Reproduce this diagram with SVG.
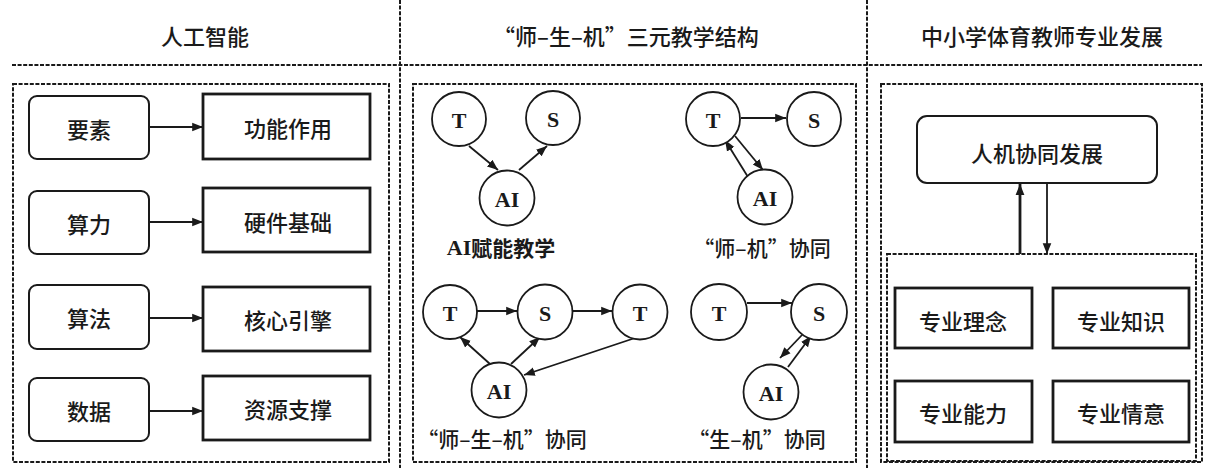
<svg xmlns="http://www.w3.org/2000/svg" width="1206" height="468" viewBox="0 0 1206 468">
<style>
.bg{fill:#fff}
.div{stroke:#1a1a1a;stroke-width:2;stroke-dasharray:4 1.6;fill:none}
.box{stroke:#1a1a1a;stroke-width:2;stroke-dasharray:4 1.6;fill:none}
.rr{fill:#fff;stroke:#1a1a1a;stroke-width:2}
.sq{fill:#fff;stroke:#1a1a1a;stroke-width:2.8}
.cir{fill:#fff;stroke:#1a1a1a;stroke-width:1.8}
.hd{font-family:"Noto Sans CJK SC",sans-serif;font-weight:500;font-size:22px;fill:#1a1a1a;text-anchor:middle;dominant-baseline:central}
.lb{font-family:"Noto Sans CJK SC",sans-serif;font-weight:500;font-size:22px;fill:#1a1a1a;text-anchor:middle;dominant-baseline:central}
.cap{font-family:"Noto Sans CJK SC",sans-serif;font-weight:500;font-size:21px;fill:#1a1a1a;text-anchor:middle;dominant-baseline:central}
.capb{font-family:"Noto Sans CJK SC",sans-serif;font-weight:bold;font-size:21px;fill:#1a1a1a;text-anchor:middle;dominant-baseline:central}
.capb tspan{font-family:"Liberation Serif",serif;font-weight:bold;font-size:22px}
.ser{font-family:"Liberation Serif",serif;font-weight:bold;font-size:22px;fill:#1a1a1a;text-anchor:middle;dominant-baseline:central}
.ln{stroke:#1a1a1a;stroke-width:1.8;fill:none;marker-end:url(#ah)}
.lnb{stroke:#1a1a1a;stroke-width:2.8;fill:none;marker-end:url(#ah2)}
</style>
<defs>
<marker id="ah" viewBox="0 0 10 10" refX="10" refY="5" markerWidth="6" markerHeight="6" orient="auto" markerUnits="strokeWidth"><path d="M0,1 L10,5 L0,9 Z" fill="#1a1a1a"/></marker>
<marker id="ah2" viewBox="0 0 10 10" refX="10" refY="5" markerWidth="4" markerHeight="4" orient="auto" markerUnits="strokeWidth"><path d="M0,1 L10,5 L0,9 Z" fill="#1a1a1a"/></marker>
</defs>
<rect class="bg" x="0" y="0" width="1206" height="468"/>

<g id="frame">
<line class="div" x1="400" y1="0" x2="400" y2="468"/>
<line class="div" x1="867" y1="0" x2="867" y2="468"/>
<line class="div" x1="12" y1="65" x2="1202" y2="65"/>
<rect class="box" x="13" y="84" width="376" height="378"/>
<rect class="box" x="413" y="84" width="443" height="378"/>
<rect class="box" x="881" y="84" width="321" height="378"/>
<rect class="box" x="887" y="254" width="309" height="207"/>
</g>

<g id="headers">
<text class="hd" x="205" y="35">人工智能</text>
<text class="hd" x="626" y="35">“师–生–机”三元教学结构</text>
<text class="hd" x="1042" y="35">中小学体育教师专业发展</text>
</g>

<g id="connectors">
<line class="ln" x1="149" y1="127" x2="203" y2="127"/>
<line class="ln" x1="149" y1="222" x2="203" y2="222"/>
<line class="ln" x1="149" y1="318" x2="203" y2="318"/>
<line class="ln" x1="149" y1="411" x2="203" y2="411"/>

<line class="ln" x1="469" y1="146" x2="498" y2="170"/>
<line class="ln" x1="519" y1="170" x2="547" y2="146"/>

<line class="ln" x1="741" y1="118" x2="786" y2="118"/>
<line class="ln" x1="748" y1="177" x2="725" y2="140"/>
<line class="ln" x1="735" y1="136" x2="763" y2="170"/>

<line class="ln" x1="477" y1="311" x2="517" y2="311"/>
<line class="ln" x1="572" y1="311" x2="612" y2="311"/>
<line class="ln" x1="490" y1="364" x2="460" y2="337"/>
<line class="ln" x1="511" y1="364" x2="540" y2="337"/>
<line class="ln" x1="638" y1="337" x2="524" y2="375"/>

<line class="ln" x1="747" y1="303" x2="792" y2="303"/>
<line class="ln" x1="802" y1="335" x2="780" y2="358"/>
<line class="ln" x1="788" y1="367" x2="811" y2="336"/>

<line class="lnb" x1="1020" y1="254" x2="1020" y2="184"/>
<line class="ln" x1="1047" y1="183" x2="1047" y2="254"/>
</g>

<g id="ai-elements">
<g id="n-yaosu"><rect class="rr" x="29" y="96" width="120" height="63" rx="8"/><text class="lb" x="89" y="128">要素</text></g>
<g id="n-suanli"><rect class="rr" x="29" y="191" width="120" height="63" rx="8"/><text class="lb" x="89" y="223">算力</text></g>
<g id="n-suanfa"><rect class="rr" x="29" y="285" width="120" height="64" rx="8"/><text class="lb" x="89" y="317">算法</text></g>
<g id="n-shuju"><rect class="rr" x="29" y="378" width="120" height="63" rx="8"/><text class="lb" x="89" y="410">数据</text></g>
<g id="n-gongneng"><rect class="sq" x="203" y="94" width="167" height="65"/><text class="lb" x="288" y="127">功能作用</text></g>
<g id="n-yingjian"><rect class="sq" x="203" y="188" width="167" height="64"/><text class="lb" x="288" y="221">硬件基础</text></g>
<g id="n-hexin"><rect class="sq" x="203" y="287" width="167" height="64"/><text class="lb" x="288" y="319">核心引擎</text></g>
<g id="n-ziyuan"><rect class="sq" x="203" y="376" width="167" height="64"/><text class="lb" x="288" y="408">资源支撑</text></g>
</g>

<g id="triad">
<g id="t1"><circle class="cir" cx="459" cy="119" r="27"/><text class="ser" x="459" y="120">T</text></g>
<g id="s1"><circle class="cir" cx="553" cy="118" r="27"/><text class="ser" x="553" y="119">S</text></g>
<g id="ai1"><circle class="cir" cx="507" cy="198" r="27.5"/><text class="ser" x="507" y="199">AI</text></g>
<text class="capb" x="501" y="247"><tspan>AI</tspan>赋能教学</text>

<g id="t2"><circle class="cir" cx="713" cy="119" r="27"/><text class="ser" x="713" y="120">T</text></g>
<g id="s2"><circle class="cir" cx="814" cy="119" r="27"/><text class="ser" x="814" y="120">S</text></g>
<g id="ai2"><circle class="cir" cx="765" cy="197" r="27.5"/><text class="ser" x="765" y="198">AI</text></g>
<text class="cap" x="762" y="247">“师–机”协同</text>

<g id="t3"><circle class="cir" cx="450" cy="312" r="27"/><text class="ser" x="450" y="313">T</text></g>
<g id="s3"><circle class="cir" cx="545" cy="312" r="27.5"/><text class="ser" x="545" y="313">S</text></g>
<g id="t4"><circle class="cir" cx="640" cy="312" r="27.5"/><text class="ser" x="640" y="313">T</text></g>
<g id="ai3"><circle class="cir" cx="499" cy="390" r="27.5"/><text class="ser" x="499" y="391">AI</text></g>
<text class="cap" x="502" y="438">“师–生–机”协同</text>

<g id="t5"><circle class="cir" cx="719" cy="312" r="28"/><text class="ser" x="719" y="313">T</text></g>
<g id="s5"><circle class="cir" cx="819" cy="312" r="28"/><text class="ser" x="819" y="313">S</text></g>
<g id="ai5"><circle class="cir" cx="771" cy="392" r="27.5"/><text class="ser" x="771" y="393">AI</text></g>
<text class="cap" x="757" y="438">“生–机”协同</text>
</g>

<g id="teacher-dev">
<g id="n-renji"><rect class="rr" x="917" y="116" width="240" height="67" rx="10"/><text class="lb" x="1037" y="152">人机协同发展</text></g>
<g id="n-linian"><rect class="sq" x="895" y="288" width="137" height="60"/><text class="lb" x="963" y="320">专业理念</text></g>
<g id="n-zhishi"><rect class="sq" x="1053" y="288" width="136" height="60"/><text class="lb" x="1121" y="320">专业知识</text></g>
<g id="n-nengli"><rect class="sq" x="895" y="381" width="137" height="61"/><text class="lb" x="963" y="412">专业能力</text></g>
<g id="n-qingyi"><rect class="sq" x="1053" y="381" width="136" height="61"/><text class="lb" x="1121" y="412">专业情意</text></g>
</g>
</svg>
